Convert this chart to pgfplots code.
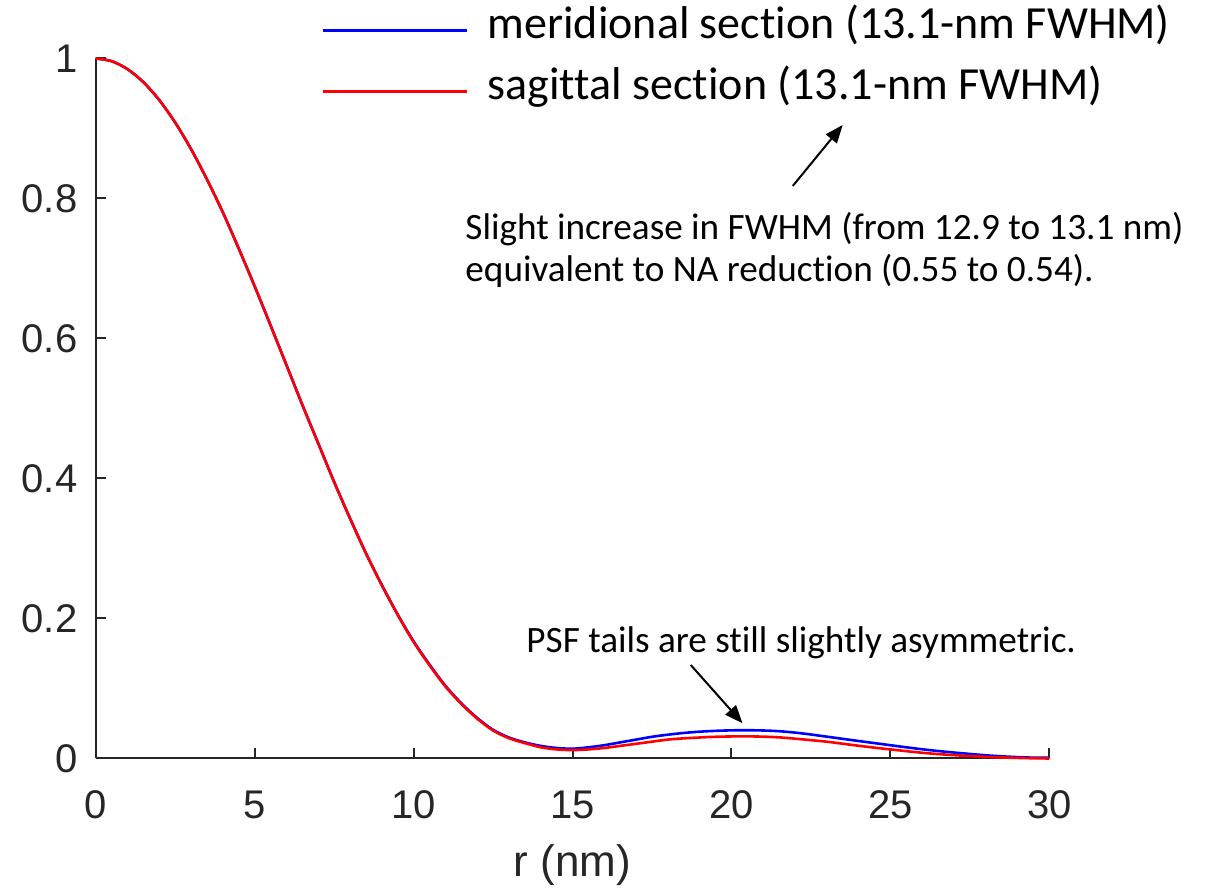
\documentclass[border=0pt]{standalone}
\usepackage{fontspec}
\setmainfont{Liberation Sans}
\newfontfamily\calibri[RawFeature=-liga]{Carlito}
\usepackage{pgfplots}
\pgfplotsset{compat=1.18}
\usepackage{pgfplotstable}
\usetikzlibrary{arrows.meta}
\definecolor{axgray}{RGB}{38,38,38}

% PSF cross-sections: radius r (nm), meridional and sagittal intensity
\pgfplotstableread{
r    merid   sagit
0    1.0000  1.0000
0.5  0.9962  0.9962
1    0.9848  0.9848
1.5  0.9662  0.9662
2    0.9406  0.9406
2.5  0.9085  0.9085
3    0.8706  0.8706
3.5  0.8273  0.8273
4    0.7802  0.7802
4.5  0.7285  0.7285
5    0.6747  0.6747
5.5  0.6189  0.6189
6    0.5622  0.5622
6.5  0.5053  0.5053
7    0.4503  0.4503
7.5  0.3952  0.3952
8    0.3431  0.3431
8.5  0.2935  0.2931
9    0.2480  0.2475
9.5  0.2058  0.2052
10   0.1675  0.1665
10.5 0.1343  0.1333
11   0.1040  0.1030
11.5 0.0790  0.0781
12   0.0580  0.0570
12.5 0.0410  0.0400
13   0.0300  0.0290
13.5 0.0230  0.0220
14   0.0180  0.0160
14.5 0.0150  0.0130
15   0.0140  0.0120
15.5 0.0160  0.0130
16   0.0190  0.0150
16.5 0.0230  0.0180
17   0.0270  0.0210
17.5 0.0310  0.0240
18   0.0340  0.0270
18.5 0.0365  0.0288
19   0.0383  0.0300
19.5 0.0395  0.0310
20   0.0402  0.0315
20.5 0.0404  0.0316
21   0.0400  0.0312
21.5 0.0390  0.0302
22   0.0370  0.0283
22.5 0.0343  0.0262
23   0.0312  0.0240
23.5 0.0281  0.0211
24   0.0250  0.0182
24.5 0.0220  0.0155
25   0.0190  0.0130
25.5 0.0160  0.0105
26   0.0132  0.0082
26.5 0.0107  0.0063
27   0.0085  0.0048
27.5 0.0065  0.0035
28   0.0046  0.0024
28.5 0.0031  0.0015
29   0.0020  0.0008
29.5 0.0012  0.0003
30   0.0010  0.0000
}\psf

\begin{document}
\begin{tikzpicture}
\path[use as bounding box] (-47.85pt,-64.75pt) rectangle (565.65pt,379.25pt);
\begin{axis}[
  at={(0pt,0pt)}, anchor=south west,
  scale only axis, width=476.8pt, height=350pt,
  xmin=0, xmax=30, ymin=0, ymax=1,
  axis x line*=bottom, axis y line*=left,
  axis line style={axgray, line width=1pt},
  tick align=inside, major tick length=5pt,
  tick style={axgray, line width=1pt},
  xtick={0,5,...,30}, ytick={0,0.2,0.4,0.6,0.8,1},
  /pgf/number format/assume math mode=true,
  tick label style={font=\fontsize{20}{24}\selectfont, text=axgray},
  xticklabel style={inner sep=0pt, yshift=-16pt},
  yticklabel style={inner sep=0pt, xshift=-9pt},
  xlabel={r (nm)},
  xlabel style={font=\fontsize{22}{26}\selectfont, text=axgray,
    at={(axis description cs:0.5,0)}, anchor=base, yshift=-58.8pt, inner sep=0pt},
  clip=false,
  legend cell align=left,
  legend image code/.code={\draw[#1] (0pt,0pt) -- (72pt,0pt);},
  legend style={at={(axis description cs:0.2370,1.0710)}, anchor=north west,
    draw=none, fill=none, inner sep=0pt, outer sep=0pt,
    row sep=8.5pt, column sep=9.7pt,
    font=\calibri\fontsize{23}{27}\selectfont,
    nodes={inner sep=0pt, text height=15pt, text depth=7pt}},
]
\addplot[blue, line width=1.3pt, smooth] table[x=r, y=merid] {\psf};
\addlegendentry{meridional section (13.1-nm FWHM)}
\addplot[red, line width=1.3pt, smooth] table[x=r, y=sagit] {\psf};
\addlegendentry{sagittal section (13.1-nm FWHM)}

\begin{scope}[every node/.style={anchor=base west, inner sep=0pt,
    font=\calibri\fontsize{18.6}{22}\selectfont}]
\node at (axis cs:11.62,0.7417) {Slight increase in FWHM (from 12.9 to 13.1 nm)};
\node at (axis cs:11.62,0.6811) {equivalent to NA reduction (0.55 to 0.54).};
\node at (axis cs:13.54,0.1511) {PSF tails are still slightly asymmetric.};
\end{scope}
\draw[-{Triangle[length=9pt,width=7pt]}, line width=1pt]
  (axis cs:21.93,0.8179) -- (axis cs:23.50,0.9050);
\draw[-{Triangle[length=9pt,width=7pt]}, line width=1pt]
  (axis cs:18.72,0.1336) -- (axis cs:20.35,0.0503);
\end{axis}
\end{tikzpicture}
\end{document}
